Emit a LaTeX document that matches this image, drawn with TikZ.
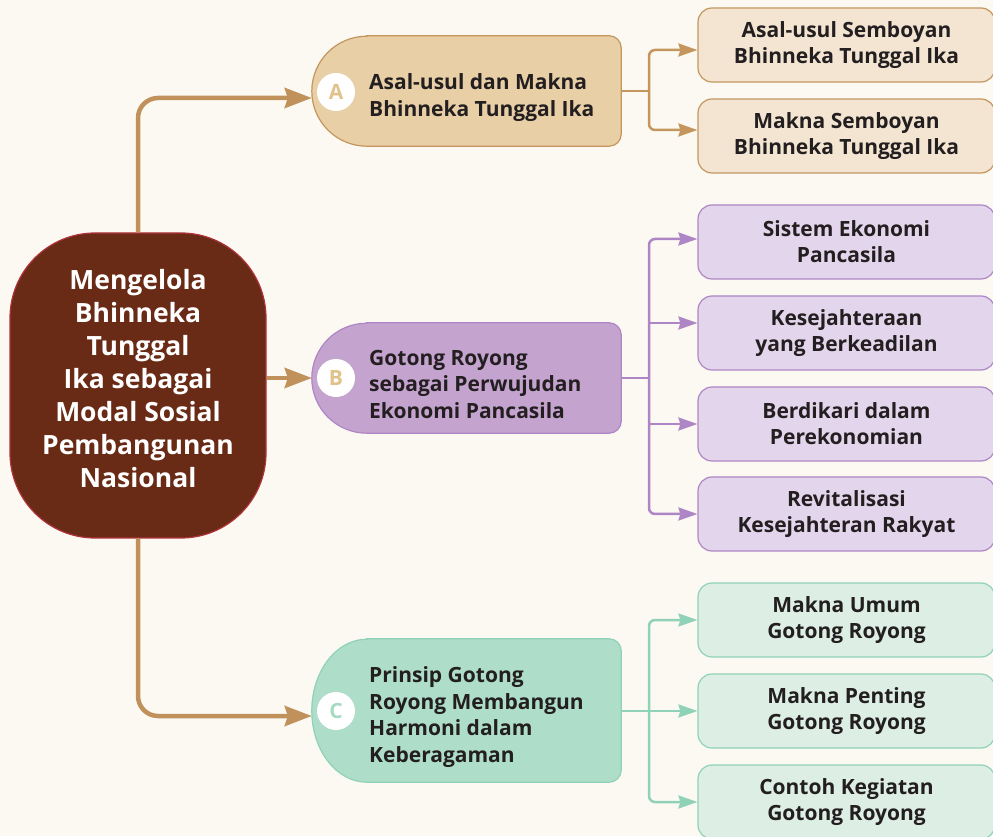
\documentclass[tikz,border=0pt]{standalone}
\usepackage{fontspec}
\setmainfont{Open Sans}
\usetikzlibrary{arrows.meta}
\definecolor{bgc}{HTML}{FCF9F2}
\definecolor{mainfill}{HTML}{692B15}
\definecolor{mainborder}{HTML}{B0323A}
\definecolor{mainarr}{HTML}{C0915B}
\definecolor{darktext}{HTML}{231F20}
\definecolor{Afill}{HTML}{E8CFA6}
\definecolor{Aline}{HTML}{C4965E}
\definecolor{Abox}{HTML}{F3E5D1}
\definecolor{Aletter}{HTML}{E0C28A}
\definecolor{Bfill}{HTML}{C5A3CF}
\definecolor{Bline}{HTML}{AE86C6}
\definecolor{Bbox}{HTML}{E3D5EB}
\definecolor{Cfill}{HTML}{AEDDC9}
\definecolor{Cline}{HTML}{8FD2B7}
\definecolor{Cbox}{HTML}{DDEEE5}
\definecolor{Cletter}{HTML}{A5DBC3}
\newcommand\pillpath[3]{%
  \draw[#3] ([xshift=55pt]#1.north west) -- ([xshift=-12pt]#1.north east)
    arc[start angle=90,end angle=0,radius=12pt] -- ([yshift=12pt]#1.south east)
    arc[start angle=0,end angle=-90,radius=12pt] -- ([xshift=55pt]#1.south west)
    arc[start angle=270,end angle=90,x radius=55pt,y radius=#2] -- cycle;}
\begin{document}
\begin{tikzpicture}[x=1pt,y=1pt,
  mainbox/.style={rectangle,rounded corners=85pt,fill=mainfill,draw=mainborder,line width=1.2pt,minimum width=256pt,minimum height=305pt},
  maintext/.style={text=white,font=\bfseries\fontsize{26.5}{33}\selectfont,align=center,inner sep=0pt},
  pillbox/.style={rectangle,minimum width=309pt,inner sep=0pt},
  subtext/.style={text=darktext,font=\bfseries\fontsize{21}{26.7}\selectfont,align=left,anchor=west,inner sep=0pt},
  badge/.style={circle,fill=white,minimum size=38pt,inner sep=0pt,font=\bfseries\fontsize{21}{24}\selectfont},
  rbox/.style={rectangle,rounded corners=14pt,line width=1.2pt,minimum width=297pt,minimum height=74pt,text=darktext,font=\bfseries\fontsize{21}{26}\selectfont,align=center},
  mainarrow/.style={draw=mainarr,line width=4.5pt,rounded corners=20pt,-{Stealth[length=27pt,width=20pt,inset=3pt]}},
  bus/.style={line width=2.5pt,rounded corners=6pt},
  bustip/.style={-{Stealth[length=19pt,width=13pt,inset=2pt]}},
  bustips/.style={{Stealth[length=19pt,width=13pt,inset=2pt]}-{Stealth[length=19pt,width=13pt,inset=2pt]}}
]
\useasboundingbox (0,0) rectangle (993,836);
\fill[bgc] (0,0) rectangle (993,836);

% central node
\node[mainbox] (main) at (138,450.5) {};
\node[maintext] (maintxt) at (138,457) {Mengelola\\Bhinneka\\Tunggal\\Ika sebagai\\Modal Sosial\\Pembangunan\\Nasional};

% section nodes
\node[pillbox,minimum height=110pt] (A) at (466.5,745) {};
\node[pillbox,minimum height=110pt] (B) at (466.5,458) {};
\node[pillbox,minimum height=143pt] (C) at (466.5,125.5) {};
\pillpath{A}{55pt}{fill=Afill,draw=Aline,line width=1.2pt}
\pillpath{B}{55pt}{fill=Bfill,draw=Bline,line width=1.2pt}
\pillpath{C}{71.5pt}{fill=Cfill,draw=Cline,line width=1.2pt}
\node[badge,text=Aletter] (Abadge) at (336,744) {A};
\node[badge,text=Aletter] (Bbadge) at (336,458) {B};
\node[badge,text=Cletter] (Cbadge) at (336,125) {C};
\node[subtext] (Atxt) at (369,738.5) {Asal-usul dan Makna\\Bhinneka Tunggal Ika};
\node[subtext] (Btxt) at (369,451.5) {Gotong Royong\\sebagai Perwujudan\\Ekonomi Pancasila};
\node[subtext] (Ctxt) at (369,119) {Prinsip Gotong\\Royong Membangun\\Harmoni dalam\\Keberagaman};

% right boxes
\node[rbox,fill=Abox,draw=Aline] (a1) at (846.5,791) {Asal-usul Semboyan\\Bhinneka Tunggal Ika};
\node[rbox,fill=Abox,draw=Aline] (a2) at (846.5,700) {Makna Semboyan\\Bhinneka Tunggal Ika};
\node[rbox,fill=Bbox,draw=Bline] (b1) at (846.5,594) {Sistem Ekonomi\\Pancasila};
\node[rbox,fill=Bbox,draw=Bline] (b2) at (846.5,503) {Kesejahteraan\\yang Berkeadilan};
\node[rbox,fill=Bbox,draw=Bline] (b3) at (846.5,412) {Berdikari dalam\\Perekonomian};
\node[rbox,fill=Bbox,draw=Bline] (b4) at (846.5,322) {Revitalisasi\\Kesejahteran Rakyat};
\node[rbox,fill=Cbox,draw=Cline] (c1) at (846.5,216) {Makna Umum\\Gotong Royong};
\node[rbox,fill=Cbox,draw=Cline] (c2) at (846.5,125) {Makna Penting\\Gotong Royong};
\node[rbox,fill=Cbox,draw=Cline] (c3) at (846.5,34) {Contoh Kegiatan\\Gotong Royong};

% main connectors
\draw[mainarrow] (main.north) |- ([yshift=-7pt]A.west);
\draw[mainarrow] (main.east |- B.west) -- (B.west);
\draw[mainarrow] (main.south) |- ([yshift=-5.5pt]C.west);

% bus A
\coordinate (jA) at (649,745);
\draw[bus,draw=Aline] (A.east) -- (jA);
\draw[bus,bustips,draw=Aline] ([yshift=-5pt]a1.west) -| (jA) |- ([yshift=6pt]a2.west);

% bus B
\coordinate (jB) at (649,458);
\coordinate (b2in) at ([yshift=10pt]b2.west);
\draw[bus,draw=Bline] (B.east) -- (jB);
\draw[bus,bustips,draw=Bline] ([yshift=3pt]b1.west) -| (jB) |- (b4.west);
\draw[bus,bustip,draw=Bline] (jB |- b2in) -- (b2in);
\draw[bus,bustip,draw=Bline] (jB |- b3.west) -- (b3.west);

% bus C
\coordinate (jC) at (649,125);
\draw[bus,bustips,draw=Cline] (c1.west) -| (jC) |- (c3.west);
\draw[bus,bustip,draw=Cline] (C.east |- c2.west) -- (c2.west);
\end{tikzpicture}
\end{document}
